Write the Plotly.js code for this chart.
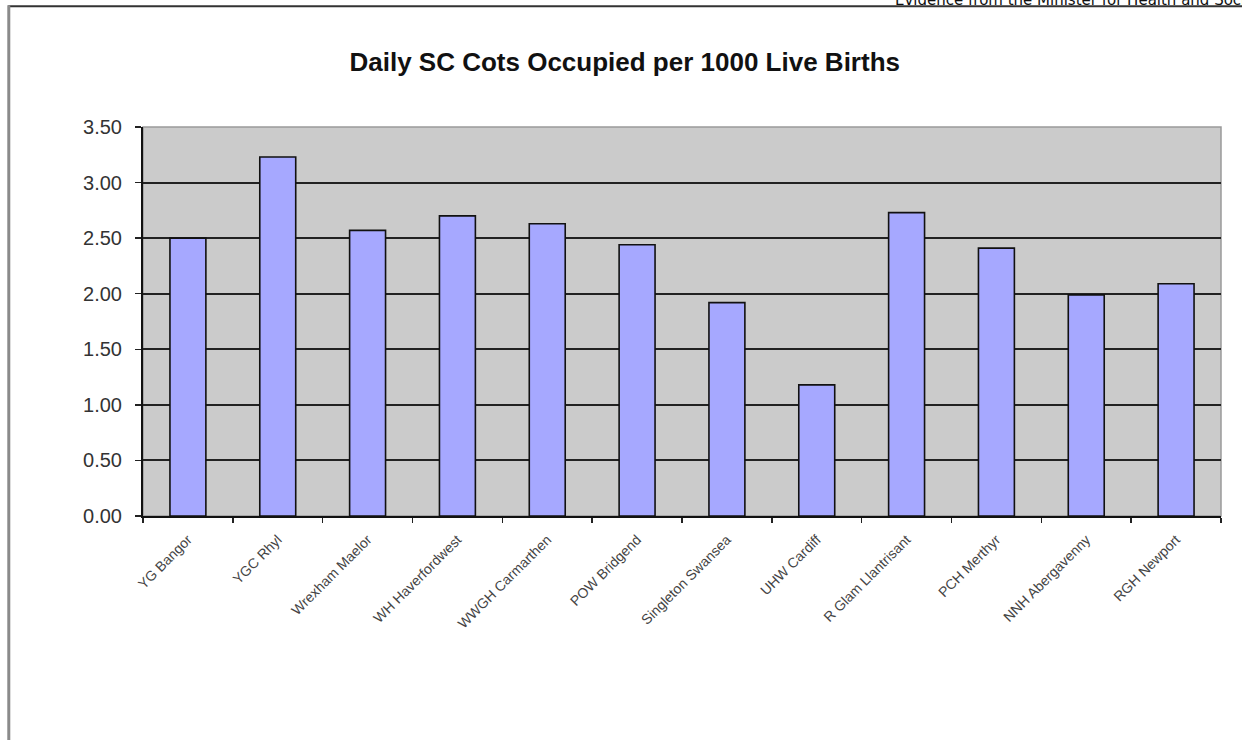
<!DOCTYPE html>
<html>
<head>
<meta charset="utf-8">
<script src="https://cdn.plot.ly/plotly-3.0.1.min.js"></script>
<style>
html, body { margin: 0; padding: 0; background: #ffffff; overflow: hidden; }
#chart { width: 1242px; height: 740px; }
</style>
</head>
<body>
<div id="chart"></div>
<script>
const chartTitle = "Daily SC Cots Occupied per 1000 Live Births";
const headerText = "Evidence from the Minister for Health and Social Services";
const hospitals = [
  "YG Bangor", "YGC Rhyl", "Wrexham Maelor", "WH Haverfordwest",
  "WWGH Carmarthen", "POW Bridgend", "Singleton Swansea", "UHW Cardiff",
  "R Glam Llantrisant", "PCH Merthyr", "NNH Abergavenny", "RGH Newport"
];
const cotsPer1000 = [2.50, 3.23, 2.57, 2.70, 2.63, 2.44, 1.92, 1.18, 2.73, 2.41, 1.99, 2.09];
const yTicks = [0, 0.5, 1.0, 1.5, 2.0, 2.5, 3.0, 3.5];

const trace = {
  type: "bar",
  x: hospitals,
  y: cotsPer1000,
  marker: { color: "#a6a8ff", line: { color: "#111111", width: 1.6 } },
  hoverinfo: "x+y"
};

const layout = {
  width: 1242,
  height: 740,
  margin: { l: 143, r: 21, t: 127, b: 224, pad: 0 },
  paper_bgcolor: "#ffffff",
  plot_bgcolor: "#cbcbcb",
  bargap: 0.6,
  showlegend: false,
  title: {
    text: chartTitle,
    x: 0.503, xref: "container", xanchor: "center",
    y: 0.916, yref: "container", yanchor: "middle",
    font: { family: "Liberation Sans, Arial, sans-serif", size: 26, color: "#111111", weight: "bold" }
  },
  xaxis: {
    type: "category",
    tickangle: -45,
    tickson: "boundaries",
    ticks: "outside",
    ticklen: 5,
    tickcolor: "#222222",
    tickwidth: 1.5,
    ticklabelstandoff: 8,
    showline: true,
    linecolor: "#111111",
    linewidth: 2,
    showgrid: false,
    tickfont: { family: "Liberation Sans, Arial, sans-serif", size: 14, color: "#444444" }
  },
  yaxis: {
    range: [0, 3.5],
    tickvals: yTicks,
    tickformat: ".2f",
    ticks: "outside",
    ticklen: 6,
    tickcolor: "#222222",
    tickwidth: 1.5,
    ticklabelstandoff: 9,
    showline: true,
    linecolor: "#111111",
    linewidth: 2,
    showgrid: true,
    gridcolor: "#222222",
    gridwidth: 2,
    zeroline: false,
    tickfont: { family: "Liberation Sans, Arial, sans-serif", size: 20, color: "#333333" }
  },
  shapes: [
    { type: "rect", xref: "paper", yref: "paper", x0: 0, x1: 1, y0: 0, y1: 1,
      line: { color: "#9a9a9a", width: 1.5 }, layer: "below" },
    { type: "line", xref: "paper", yref: "paper", x0: -0.125, x1: 1.03, y0: 1.3105, y1: 1.3105,
      line: { color: "#333333", width: 2 } },
    { type: "line", xref: "paper", yref: "paper", x0: -0.1245, x1: -0.1245, y0: 1.313, y1: -0.6,
      line: { color: "#8a8a8a", width: 3 } }
  ],
  annotations: [
    { text: headerText, xref: "paper", yref: "paper", x: 0.6957, y: 1.326,
      xanchor: "left", yanchor: "middle", showarrow: false,
      font: { family: "DejaVu Sans, sans-serif", size: 15, color: "#111111" } }
  ]
};

Plotly.newPlot("chart", [trace], layout, { displayModeBar: false, staticPlot: true });
</script>
</body>
</html>
